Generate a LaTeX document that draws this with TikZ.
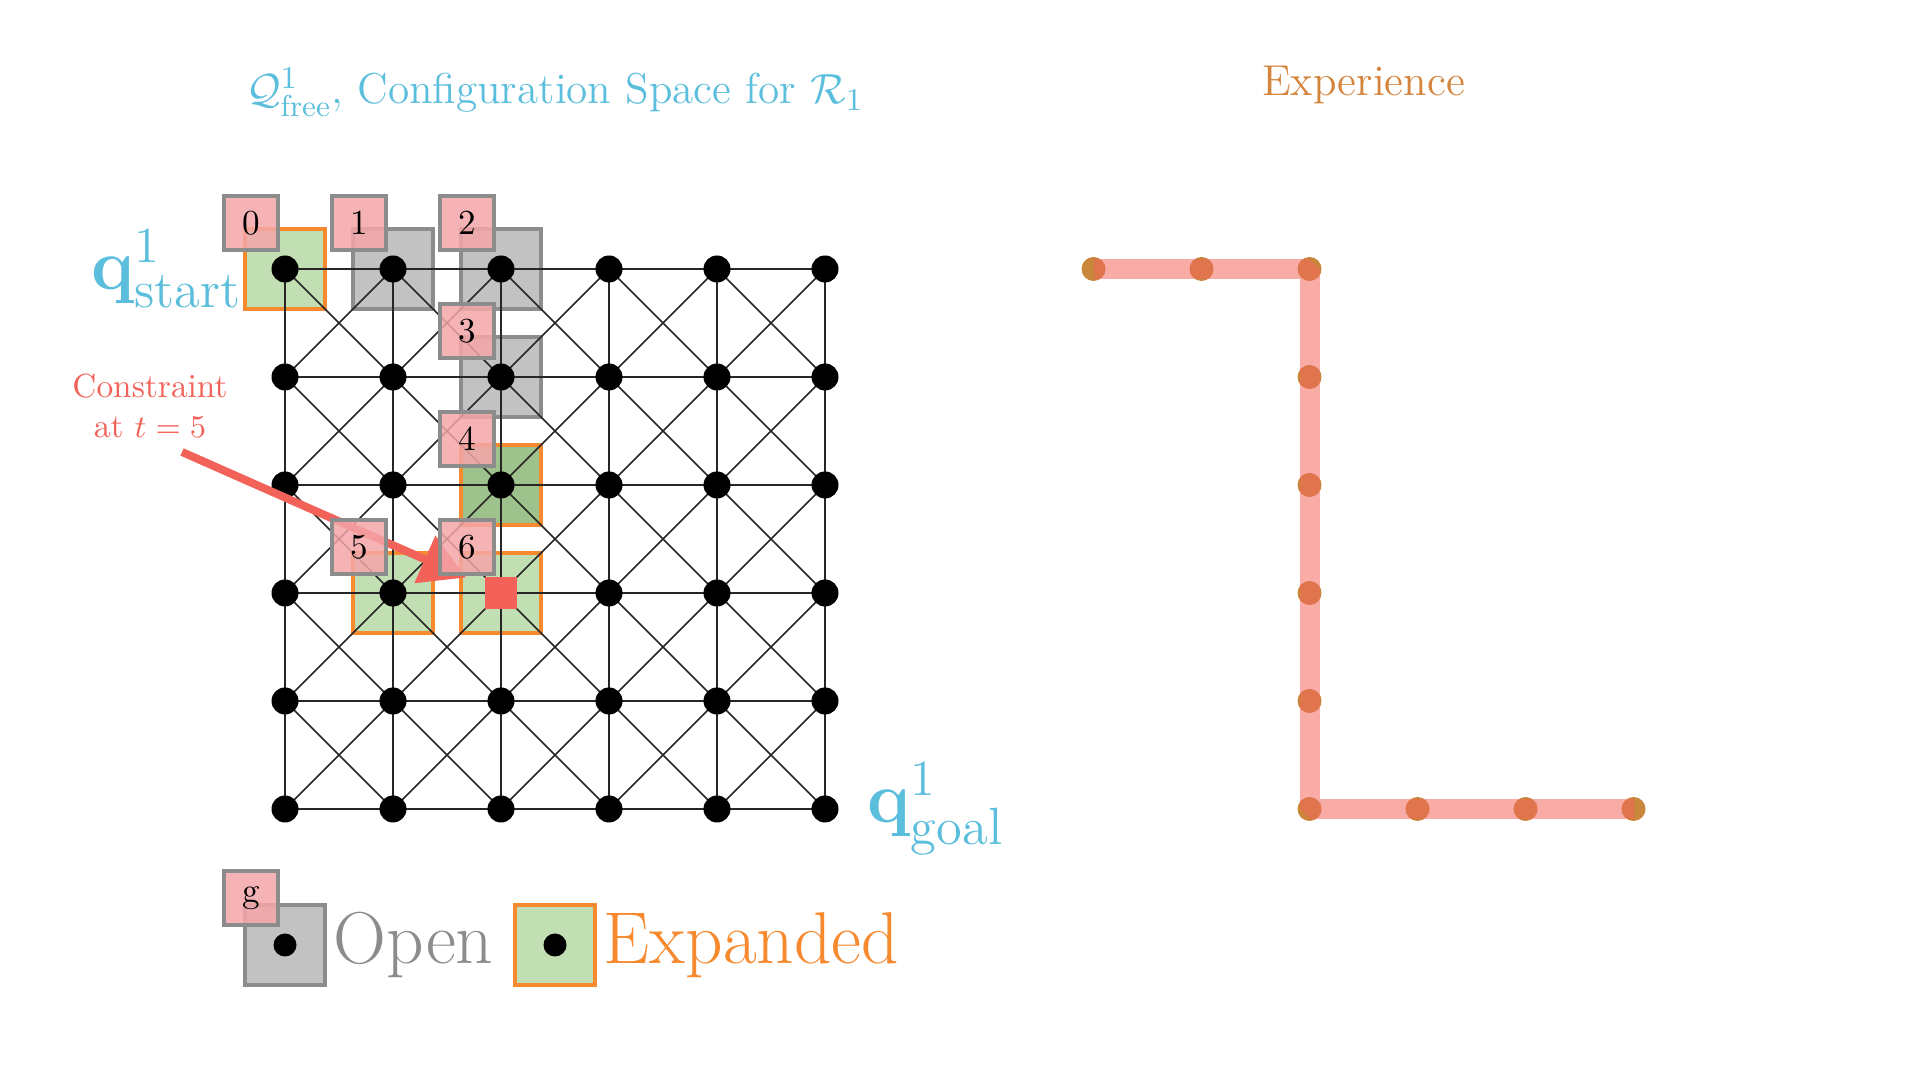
\documentclass[tikz,border=0pt]{standalone}
\usepackage{amsmath,amssymb}
\usetikzlibrary{arrows.meta,positioning,calc}
\definecolor{qcyan}{RGB}{91,190,220}
\definecolor{expbrown}{RGB}{212,132,60}
\definecolor{consred}{RGB}{242,98,88}
\definecolor{opengray}{RGB}{140,140,140}
\definecolor{openfill}{RGB}{194,194,194}
\definecolor{exporange}{RGB}{247,137,47}
\definecolor{expgreen}{RGB}{194,222,179}
\definecolor{expdark}{RGB}{157,194,139}
\definecolor{tagpink}{RGB}{244,166,169}
\definecolor{pathred}{RGB}{244,102,93}
\definecolor{dotbrown}{RGB}{200,135,58}
\tikzset{
  gdot/.style={circle, fill=black, inner sep=0pt, minimum size=2.7mm},
  gline/.style={line width=0.45pt, draw=black!85},
  openbox/.style={draw=opengray, fill=openfill, line width=0.4mm, minimum size=8mm, inner sep=0pt},
  expbox/.style={openbox, draw=exporange, fill=expgreen},
  curbox/.style={expbox, fill=expdark},
  tagbox/.style={draw=opengray, fill=tagpink, fill opacity=0.85, text opacity=1, line width=0.4mm,
                 minimum size=5.4mm, inner sep=0pt, font=\fontsize{10}{12}\selectfont},
  qlab/.style={text=qcyan, inner sep=0pt, font=\fontsize{21.3}{25}\selectfont},
  ttl/.style={font=\fontsize{12.3}{14}\selectfont, inner sep=0pt, anchor=base},
  consarr/.style={draw=consred, fill=consred, line width=0.8mm, -{Triangle[length=4.5mm, width=5mm]}, shorten >=2mm},
  xpdot/.style={circle, fill=dotbrown, inner sep=0pt, minimum size=2.4mm},
  xppath/.style={draw=pathred, draw opacity=0.55, line width=2mm, line join=bevel},
  legtxt/.style={inner sep=0pt, anchor=west, font=\fontsize{20.9}{25}\selectfont}
}
\begin{document}
\begin{tikzpicture}
\useasboundingbox (0,0) rectangle (19.2,10.8);
% grid points, left and right
\foreach \i in {0,...,5}
  \foreach \j in {0,...,5} {
    \coordinate (v-\i-\j) at (2.85+1.08*\i, 8.11-1.08*\j);
    \coordinate (e-\i-\j) at (10.935+1.08*\i, 8.11-1.08*\j);
  }

% search states
\foreach \k/\i/\j/\st in {0/0/0/expbox, 1/1/0/openbox, 2/2/0/openbox, 3/2/1/openbox,
                          4/2/2/curbox, 5/1/3/expbox, 6/2/3/expbox}
  \node[\st] (s\k) at (v-\i-\j) {};

% edges
\foreach \i [count=\ii from 1] in {0,...,4}
  \foreach \j in {0,...,5}
    \draw[gline] (v-\i-\j) -- (v-\ii-\j) (v-\j-\i) -- (v-\j-\ii);
\foreach \i [count=\ii from 1] in {0,...,4}
  \foreach \j [count=\jj from 1] in {0,...,4}
    \draw[gline] (v-\i-\j) -- (v-\ii-\jj) (v-\ii-\j) -- (v-\i-\jj);

\foreach \i in {0,...,5}
  \foreach \j in {0,...,5}
    \node[gdot] (d-\i-\j) at (v-\i-\j) {};

% constraint
\node[fill=consred, minimum size=3.2mm, inner sep=0pt] (cons) at (v-2-3) {};
\node[text=consred, align=center, font=\fontsize{9.5}{11.5}\selectfont] (note) at (1.50,6.74) {Constraint\\at $t=5$};
\coordinate (ntail) at (1.82,6.28);
\draw[consarr] (ntail) -- (cons);

% expansion order
\foreach \k in {0,...,6}
  \node[tagbox] (t\k) at ([shift={(-0.34,0.46)}]s\k) {\k};

\node[qlab, anchor=east] (qstart) at (s0.west) {$\mathbf{q}^1_{\text{start}}$};
\node[qlab, anchor=west] (qgoal) at ([xshift=4.2mm]v-5-5) {$\mathbf{q}^1_{\text{goal}}$};
\node[ttl, text=qcyan] (title) at ($(v-0-0)!0.5!(v-5-0)+(0,1.65)$)
  {$\mathcal{Q}^1_{\text{free}}$, Configuration Space for $\mathcal{R}_1$};

% experience path
\foreach \n/\i/\j in {0/0/0, 1/1/0, 2/2/0, 3/2/1, 4/2/2, 5/2/3, 6/2/4, 7/2/5, 8/3/5, 9/4/5, 10/5/5}
  \node[xpdot] (x\n) at (e-\i-\j) {};
\draw[xppath] (x0.center) -- (x2.center) -- (x7.center) -- (x10.center);
\node[ttl, text=expbrown] (xptitle) at ($(e-0-0)!0.5!(e-5-0)+(0,1.73)$) {Experience};

% legend
\node[openbox] (lopen) at (2.85,1.35) {};
\node[gdot, minimum size=2.3mm] (lodot) at (lopen) {};
\node[tagbox] (lg) at ([shift={(-0.34,0.47)}]lopen) {g};
\node[legtxt, text=opengray] (lotxt) at ([xshift=0.6mm]lopen.east) {Open};
\node[expbox] (lexp) at (5.55,1.35) {};
\node[gdot, minimum size=2.3mm] (lxdot) at (lexp) {};
\node[legtxt, text=exporange] (lxtxt) at ([xshift=0.6mm]lexp.east) {Expanded};
\end{tikzpicture}
\end{document}
